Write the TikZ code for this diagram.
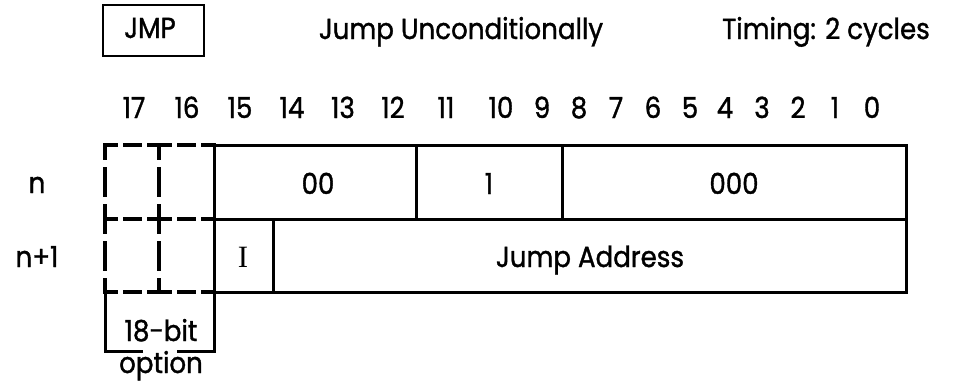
\documentclass[tikz,border=0pt]{standalone}
\usepackage{fontspec}
\setmainfont{Poppins}[FakeBold=1.2,FakeStretch=0.9]
\newfontfamily\romanI{Liberation Serif}
\usetikzlibrary{positioning}

\begin{document}
\begin{tikzpicture}[
  x=1pt, y=-1pt,
  every node/.style={font=\fontsize{29}{34}\selectfont, inner sep=0pt, anchor=base},
  solidline/.style={line width=3pt},
  hdash/.style={line width=3.6pt, line cap=rect,
    dash pattern=on 11pt off 9pt on 15pt off 9pt on 11pt},
  vdash/.style={line width=3.6pt, line cap=rect,
    dash pattern=on 13pt off 11pt on 26pt off 11pt on 13pt},
  optline/.style={line width=3pt}
]
\useasboundingbox (0,0) rectangle (955,383);

% header
\node[draw, line width=2.2pt, anchor=center, minimum width=101pt, minimum height=51pt] (jmp) at (153.5,30.5) {};
\node (jmptxt) at (150,38) {JMP};
\node (title) at (461,39) {Jump Unconditionally};
\node (timing) at (826,39) {Timing: 2 cycles};

% bit numbers
\foreach \bx/\bn in {134/17,187/16,240/15,292/14,343/13,393/12,446/11,501/10,
  542/9,579/8,616/7,653/6,690/5,725/4,762/3,798/2,835/1,872/0}
  \node (bit\bn) at (\bx,118) {\bn};

% word layout
\coordinate (tl) at (214,145);
\coordinate (br) at (906,292);
\draw[solidline] (tl) rectangle (br);
\draw[solidline] (214,219) -- (906,219);
\draw[solidline] (416,145) -- (416,219);
\draw[solidline] (562,145) -- (562,219);
\draw[solidline] (273,219) -- (273,292);

% 18-bit extension (dashed)
\foreach \yy in {145,219,292} {
  \draw[hdash] (105,\yy) -- (159,\yy);
  \draw[hdash] (159,\yy) -- (214,\yy);
}
\foreach \xx in {105,159} {
  \draw[vdash] (\xx,145) -- (\xx,219);
  \draw[vdash] (\xx,219) -- (\xx,292);
}

\draw[optline] (143,351) -- (105,351) -- (105,292);
\draw[optline] (177,351) -- (214,351) -- (214,292);
\node (bits18) at (161,341) {18-bit};
\node (option) at (161,373) {option};

% row labels
\node (rown) at (37,193) {n};
\node (rownn) at (37,267) {n+1};

% fields
\node (op) at (318,194) {00};
\node (ind) at (489,194) {1};
\node (zeros) at (734,194) {000};
\node[font=\fontsize{31}{36}\romanI] (ibit) at (243,267) {I};
\node (addr) at (590,267) {Jump Address};
\end{tikzpicture}
\end{document}
